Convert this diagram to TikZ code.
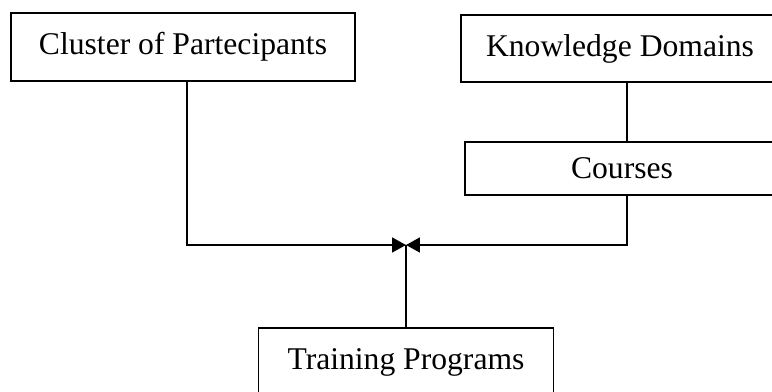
\documentclass[tikz,border=0pt]{standalone}
\usepackage{fontspec}
\setmainfont{Liberation Serif}
\usetikzlibrary{arrows.meta, positioning}

\begin{document}
\begin{tikzpicture} [x=0.02cm, y=-0.02cm, line width=1pt,
        box/.style = {draw, rectangle, inner sep=0pt, font=\fontsize{18}{21}\selectfont},
        tip/.style = {-{Triangle[length=0.28cm, width=0.3cm]}}]
        \clip (0,0) rectangle (772,392);

        \node (clust)
        [box, minimum width=6.88cm, minimum height=1.36cm] at (183,47)
        {Cluster of Partecipants};
        \node (know)
        [box, minimum width=6.36cm, minimum height=1.34cm] at (620,48.5)
        {Knowledge Domains};
        \node (courses)
        [box, minimum width=6.28cm, minimum height=1.06cm] at (622,168.5)
        {Courses};
        \node (train)
        [box, minimum width=5.9cm, minimum height=1.36cm] at (406,362)
        {Training Programs};

        \coordinate (join) at (406,245);
        \coordinate (ljoin) at (187,245);
        \coordinate (rjoin) at (627,245);

        \draw (know.south -| rjoin) -- (courses.north -| rjoin);
        \draw [tip] (clust.south -| ljoin) -- (ljoin) -- (join);
        \draw [tip] (courses.south -| rjoin) -- (rjoin) -- (join);
        \draw (train.north) -- (join);
    \end{tikzpicture}
\end{document}
